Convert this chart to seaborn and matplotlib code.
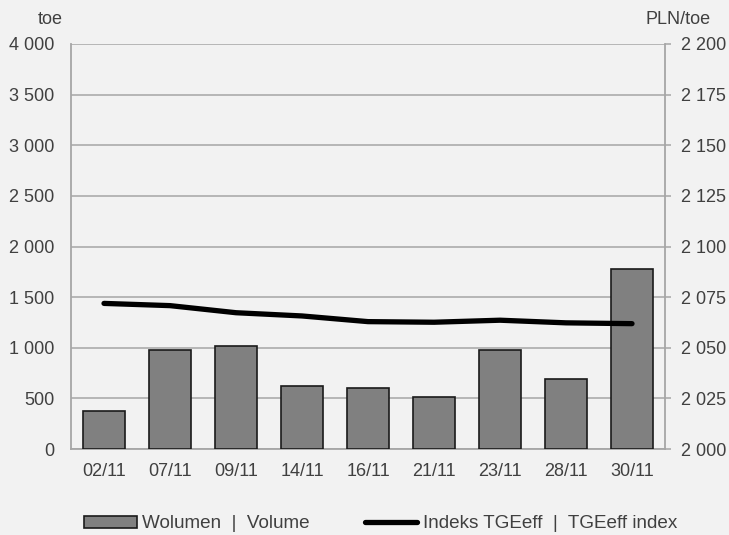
import matplotlib
matplotlib.use("Agg")
import matplotlib.pyplot as plt
import seaborn as sns
import numpy as np
import pandas as pd
from matplotlib.ticker import FixedLocator, FuncFormatter
from matplotlib.patches import Rectangle
from matplotlib.lines import Line2D

dates = ["02/11", "07/11", "09/11", "14/11", "16/11", "21/11", "23/11", "28/11", "30/11"]
volume = [375, 975, 1020, 620, 605, 515, 975, 695, 1775]
index_tge = [2071.9, 2070.8, 2067.3, 2065.7, 2062.9, 2062.6, 2063.6, 2062.3, 2061.9]
left_ticks = [0, 500, 1000, 1500, 2000, 2500, 3000, 3500, 4000]
right_ticks = [2000, 2025, 2050, 2075, 2100, 2125, 2150, 2175, 2200]
label_vol = "Wolumen  |  Volume"
label_idx = "Indeks TGEeff  |  TGEeff index"

sns.set_theme(style="white")
plt.rcParams['font.family'] = ['Liberation Sans', 'DejaVu Sans']
txt = "#404040"
grid_c = "#a6a6a6"
bg = "#f2f2f2"

fig = plt.figure(figsize=(7.29, 5.35), dpi=100, facecolor=bg)
ax = fig.add_axes([71/729, 1-449/535, (665-71)/729, (449-44)/535])
ax.set_facecolor(bg)

df = pd.DataFrame({"date": dates, "volume": volume, "idx": index_tge})
sns.barplot(data=df, x="date", y="volume", color="#808080", saturation=1,
            width=0.65, edgecolor="#1a1a1a", linewidth=1.2, ax=ax, zorder=3)
ax.set_xlim(-0.5, len(dates)-0.5)
ax.set_ylim(0, 4000)
ax.yaxis.set_major_locator(FixedLocator(left_ticks))
fmt = FuncFormatter(lambda v, p: f"{int(v):,}".replace(",", " "))
ax.yaxis.set_major_formatter(fmt)
ax.grid(axis="y", color=grid_c, linewidth=1.1, zorder=0)
ax.set_axisbelow(True)
ax.set_xlabel("")
ax.set_ylabel("")
for s in ["top", "right"]:
    ax.spines[s].set_visible(False)
for s in ["left", "bottom"]:
    ax.spines[s].set_color(grid_c)
    ax.spines[s].set_linewidth(1.3)
ax.tick_params(axis="y", length=0, pad=12, labelsize=13, labelcolor=txt)
ax.tick_params(axis="x", length=0, pad=10, labelsize=13, labelcolor=txt)

ax2 = ax.twinx()
sns.lineplot(x=np.arange(len(dates)), y=df["idx"], color="black", linewidth=3.8,
             ax=ax2, sort=False, solid_capstyle="round", zorder=4)
ax2.set_ylim(2000, 2200)
ax2.yaxis.set_major_locator(FixedLocator(right_ticks))
ax2.yaxis.set_major_formatter(fmt)
ax2.set_ylabel("")
for s in ["top", "left", "bottom"]:
    ax2.spines[s].set_visible(False)
ax2.spines["right"].set_color(grid_c)
ax2.spines["right"].set_linewidth(1.3)
ax2.tick_params(axis="y", length=4.5, width=1.1, color=grid_c, pad=7,
                labelsize=13, labelcolor=txt, direction="out")

fig.text(63/729, 1-20/535, "toe", ha="right", va="center", fontsize=13, color=txt)
fig.text(711/729, 1-20/535, "PLN/toe", ha="right", va="center", fontsize=13, color=txt)

h1 = Rectangle((0, 0), 1, 1, facecolor="#808080", edgecolor="#1a1a1a", linewidth=1.2)
h2 = Line2D([0], [0], color="black", linewidth=3.8, solid_capstyle="round")
fig.legend([h1, h2], [label_vol, label_idx], loc="center left",
           bbox_to_anchor=(84/729, 1-524/535), ncol=2, frameon=False,
           fontsize=13.6, labelcolor=txt, handlelength=2.8, handleheight=0.58,
           handletextpad=0.28, columnspacing=2.9, borderaxespad=0, borderpad=0)

fig.savefig("out.png", dpi=100, facecolor=bg)
